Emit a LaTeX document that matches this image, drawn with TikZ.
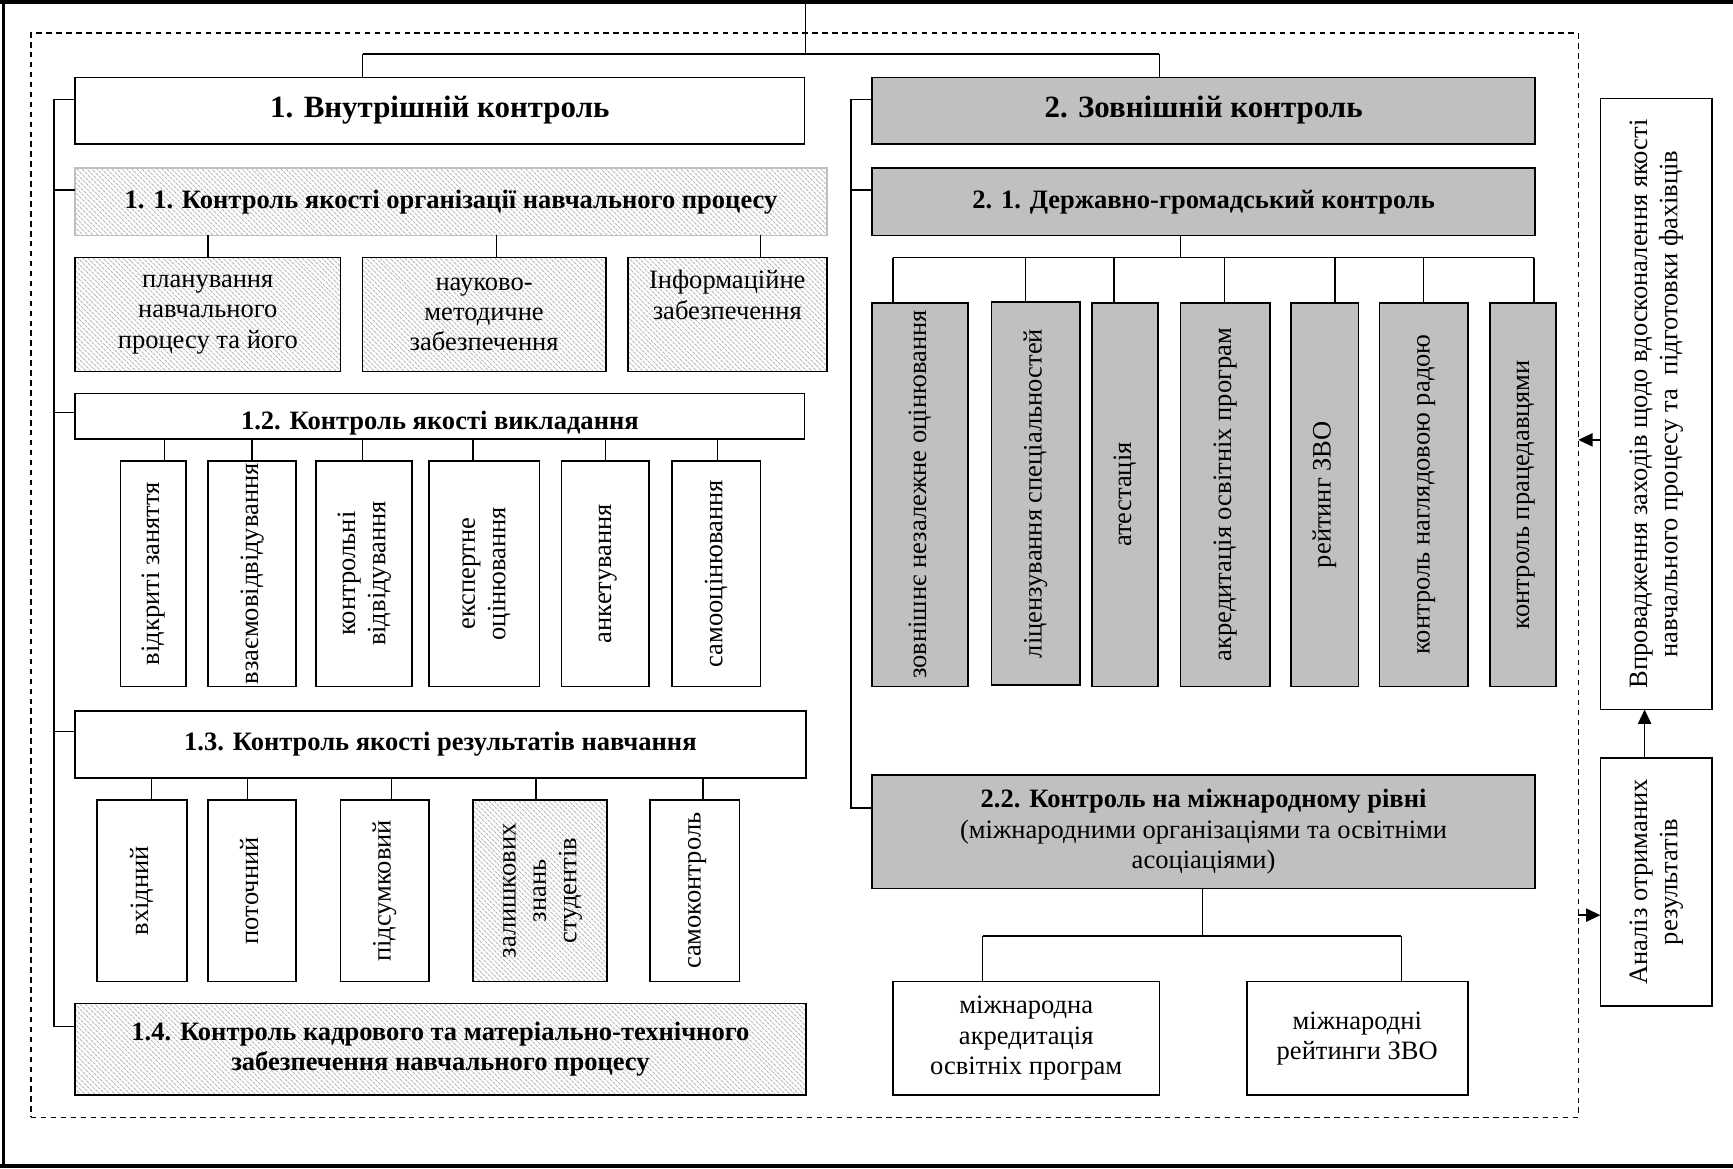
\documentclass[tikz,border=0pt]{standalone}
\usepackage{fontspec}
\setmainfont{Liberation Serif}
\usepackage{graphicx}
\usetikzlibrary{patterns.meta,calc,arrows.meta}
\definecolor{silverg}{RGB}{192,192,192}
\newcommand\myfs{\fontsize{24}{27.5}\selectfont}
\newcommand\myfb{\fontsize{24}{27.5}\selectfont\bfseries}
\newcommand\myfh{\fontsize{28}{32}\selectfont\bfseries}
\newcommand\vt[1]{\rotatebox{90}{\begin{tabular}{@{}c@{}}#1\end{tabular}}}
\newcommand\bx[7]{\pgfmathsetmacro\mybw{#5-#3}\pgfmathsetmacro\mybh{#6-#4}%
 \node[#2,anchor=north west,minimum width=\mybw pt,minimum height=\mybh pt] (#1) at (#3,#4) {#7};}
\newcommand\drop[3]{\draw[conn] let \p1=($(#2.north west)+(#3,0)$), \p2=(#1) in (\x1,\y2) -- (\x1,\y1);}
\newcommand\stub[3]{\draw[conn] let \p1=($(#2.north west)+(0,#3)$), \p2=(#1) in (\p1) -- (\x2,\y1);}
\tikzset{
 boxbase/.style={draw=black, line width=1.5pt, inner sep=1pt, outer sep=0pt, align=center, font=\myfs},
 wbox/.style={boxbase, fill=white},
 gbox/.style={boxbase, fill=silverg},
 hbox/.style={boxbase, pattern={Lines[angle=-45, distance=4pt, line width=1.3pt]}, pattern color=black!27},
 lbox/.style={hbox, draw=black!25},
 dframe/.style={draw, dash pattern=on 5pt off 4pt, line width=1.2pt, inner sep=0pt, outer sep=0pt},
 conn/.style={line width=1.3pt},
 arr/.style={line width=1.4pt, -{Triangle[length=13pt,width=12pt]}},
}
\begin{document}
\begin{tikzpicture}[x=1pt,y=-1pt]
\useasboundingbox (0,0) rectangle (1568,1057);
% outer frame
\draw[line width=4pt] (0,2) -- (1568,2);
\draw[line width=3pt] (3,0) -- (3,1057);
\draw[line width=3pt] (0,1055) -- (1568,1055);
% dashed frame
\bx{dash}{dframe}{28}{30}{1428}{1011}{}
% main boxes
\bx{in1}{wbox,font=\myfh}{68}{70}{728}{130}{1. Внутрішній контроль}
\bx{ex}{gbox,font=\myfh}{789}{70}{1389}{130}{2. Зовнішній контроль}
% 1.1
\bx{k11}{lbox,font=\myfb}{68}{152}{748}{213}{1. 1. Контроль якості організації навчального процесу}
\bx{pa}{hbox}{68}{233}{308}{336}{планування\\навчального\\процесу та його}
\bx{pb}{hbox}{328}{233}{548}{336}{науково-\\методичне\\забезпечення}
\bx{pc}{hbox}{568}{233}{748}{336}{Інформаційне\\забезпечення\\\strut}
% 1.2
\bx{k12}{wbox,font=\myfb}{68}{356}{728}{397}{\raisebox{-12pt}[0pt][0pt]{1.2. Контроль якості викладання}}
\bx{v1}{wbox}{109}{417}{168}{621}{\vt{відкриті заняття}}
\bx{v2}{wbox}{188}{417}{268}{621}{\vt{взаємовідвідування}}
\bx{v3}{wbox}{286}{417}{373}{621}{\vt{контрольні\\відвідування}}
\bx{v4}{wbox}{388}{417}{488}{621}{\vt{експертне\\оцінювання}}
\bx{v5}{wbox}{508}{417}{587}{621}{\vt{анкетування}}
\bx{v6}{wbox}{608}{417}{688}{621}{\vt{самооцінювання}}
% 1.3
\bx{k13}{wbox,font=\myfb}{68}{643}{729}{704}{1.3. Контроль якості результатів навчання}
\bx{r1}{wbox}{88}{724}{169}{888}{\vt{вхідний}}
\bx{r2}{wbox}{188}{724}{268}{888}{\vt{поточний}}
\bx{r3}{wbox}{308}{724}{388}{888}{\vt{підсумковий}}
\bx{r4}{hbox}{428}{724}{549}{888}{\vt{залишкових\\знань\\студентів}}
\bx{r5}{wbox}{588}{724}{669}{888}{\vt{самоконтроль}}
% 1.4
\bx{k14}{hbox,font=\myfb}{68}{908}{729}{991}{1.4. Контроль кадрового та матеріально-технічного\\забезпечення навчального процесу}
% 2.1
\bx{k21}{gbox,font=\myfb}{789}{152}{1389}{213}{2. 1. Державно-громадський контроль}
\bx{eA}{gbox}{789}{274}{876}{621}{\vt{зовнішнє незалежне оцінювання}}
\bx{eB}{gbox}{897}{273}{977}{620}{\vt{ліцензування спеціальностей}}
\bx{eC}{gbox}{988}{274}{1048}{621}{\vt{атестація}}
\bx{eD}{gbox}{1068}{274}{1149}{621}{\vt{акредитація освітніх програм}}
\bx{eE}{gbox}{1168}{274}{1229}{621}{\vt{рейтинг ЗВО}}
\bx{eF}{gbox}{1248}{274}{1328}{621}{\vt{контроль наглядовою радою}}
\bx{eG}{gbox}{1348}{274}{1408}{621}{\vt{контроль працедавцями}}
% 2.2
\bx{k22}{gbox}{789}{701}{1389}{804}{\textbf{2.2. Контроль на міжнародному рівні}\\(міжнародними організаціями та освітніми\\асоціаціями)}
\bx{ia}{wbox}{808}{888}{1049}{991}{міжнародна\\акредитація\\освітніх програм}
\bx{ib}{wbox}{1128}{888}{1328}{991}{міжнародні\\рейтинги ЗВО}
% right column
\bx{vpr}{wbox}{1448}{89}{1549}{642}{\vt{Впровадження заходів щодо вдосконалення якості\\навчального процесу та\ \ підготовки фахівців}}
\bx{an}{wbox}{1448}{686}{1549}{910}{\vt{Аналіз отриманих\\результатів}}
% ---------- connectors
\coordinate (t0) at (729,2);
\coordinate (b0) at (729,49);
\draw[conn] (t0) -- (b0);
\draw[conn] let \p1=($(in1.north west)+(260,0)$), \p2=($(ex.north west)+(260,0)$), \p3=(b0) in (\x1,\y3) -- (\x2,\y3);
\drop{b0}{in1}{260}
\drop{b0}{ex}{260}
% left spine
\coordinate (sL) at (49,0);
\draw[conn] let \p1=($(in1.north west)+(0,20)$), \p2=($(k14.north west)+(0,21)$), \p3=(sL) in (\p1) -- (\x3,\y1) -- (\x3,\y2) -- (\p2);
\stub{sL}{k11}{20}
\stub{sL}{k12}{17}
\stub{sL}{k13}{19}
% 1.1 children
\drop{k11.south}{pa}{120}
\drop{k11.south}{pb}{121}
\drop{k11.south}{pc}{120}
% 1.2 children
\drop{k12.south}{v1}{40}
\drop{k12.south}{v2}{40}
\drop{k12.south}{v3}{42}
\drop{k12.south}{v4}{40}
\drop{k12.south}{v5}{40}
\drop{k12.south}{v6}{41}
% 1.3 children
\drop{k13.south}{r1}{49}
\drop{k13.south}{r2}{36}
\drop{k13.south}{r3}{46}
\drop{k13.south}{r4}{57}
\drop{k13.south}{r5}{48}
% right spine
\coordinate (sR) at (770,0);
\draw[conn] let \p1=($(ex.north west)+(0,20)$), \p2=($(k22.north west)+(0,30)$), \p3=(sR) in (\p1) -- (\x3,\y1) -- (\x3,\y2) -- (\p2);
\stub{sR}{k21}{20}
% 2.1 bus
\coordinate (b21) at (1068,233);
\draw[conn] (k21.south -| b21) -- (b21);
\draw[conn] let \p1=($(eA.north west)+(19,0)$), \p2=($(eG.north west)+(40,0)$), \p3=(b21) in (\x1,\y3) -- (\x2,\y3);
\drop{b21}{eA}{19}
\drop{b21}{eB}{31}
\drop{b21}{eC}{20}
\drop{b21}{eD}{40}
\drop{b21}{eE}{40}
\drop{b21}{eF}{40}
\drop{b21}{eG}{40}
% 2.2 bus
\coordinate (b22) at (1088,847);
\draw[conn] (k22.south -| b22) -- (b22);
\draw[conn] let \p1=($(ia.north west)+(81,0)$), \p2=($(ib.north west)+(140,0)$), \p3=(b22) in (\x1,\y3) -- (\x2,\y3);
\drop{b22}{ia}{81}
\drop{b22}{ib}{140}
% arrows right
\draw[arr] ($(an.north west)+(40,0)$) -- ($(vpr.south west)+(40,0)$);
\draw[arr] let \p1=($(vpr.north west)+(0,309)$), \p2=(dash.east) in (\p1) -- (\x2,\y1);
\draw[arr] let \p1=($(an.north west)+(0,142)$), \p2=(dash.east) in (\x2,\y1) -- (\p1);
\end{tikzpicture}
\end{document}
